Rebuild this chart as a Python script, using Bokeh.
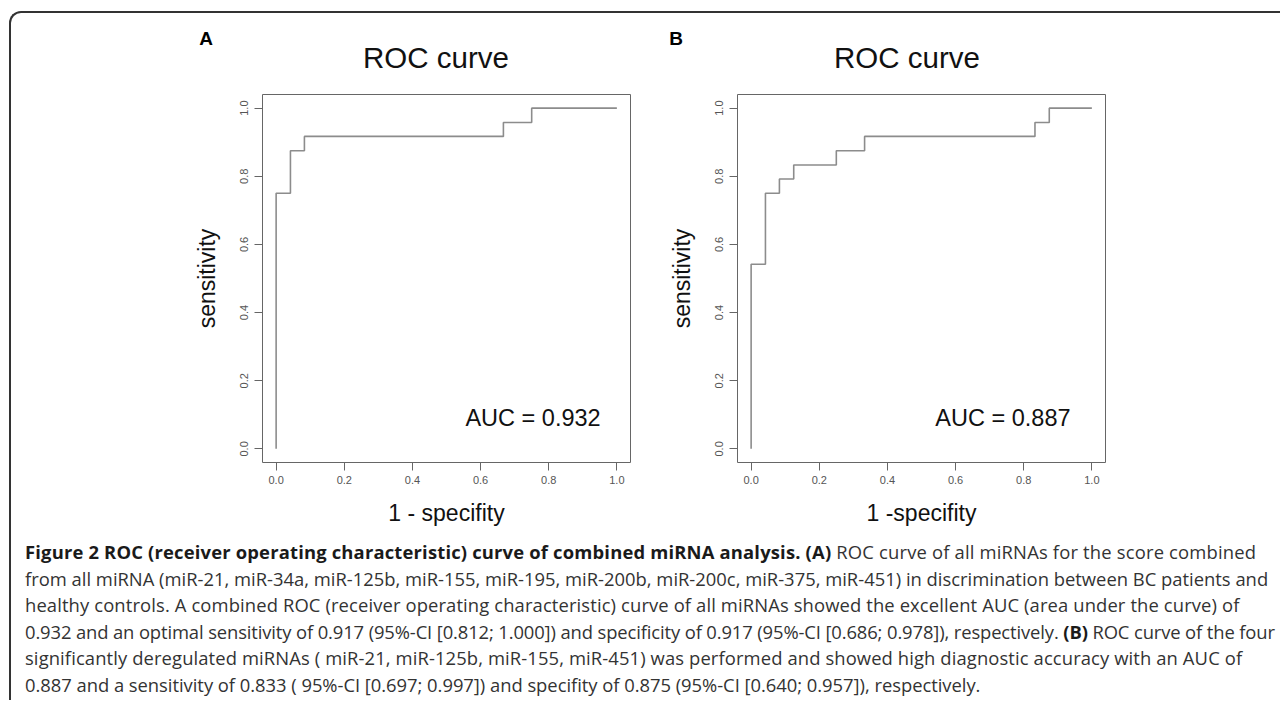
from bokeh.plotting import figure
from bokeh.models import Label, FixedTicker, Div, PrintfTickFormatter, Range1d
from bokeh.layouts import row, column
from bokeh.embed import file_html
from bokeh.resources import INLINE

# ---- data (1 - specificity, sensitivity) ----
fpr_a = [0.0, 0.0, 0.042, 0.042, 0.083, 0.083, 0.667, 0.667, 0.750, 0.750, 1.0]
tpr_a = [0.0, 0.750, 0.750, 0.875, 0.875, 0.917, 0.917, 0.958, 0.958, 1.0, 1.0]

fpr_b = [0.0, 0.0, 0.042, 0.042, 0.083, 0.083, 0.125, 0.125, 0.250, 0.250,
         0.333, 0.333, 0.833, 0.833, 0.875, 0.875, 1.0]
tpr_b = [0.0, 0.542, 0.542, 0.750, 0.750, 0.792, 0.792, 0.833, 0.833, 0.875,
         0.875, 0.917, 0.917, 0.958, 0.958, 1.0, 1.0]

auc_labels = ["AUC = 0.932", "AUC = 0.887"]
panel_letters = ["A", "B"]
x_titles = ["1 - specifity", "1 -specifity"]
y_title = "sensitivity"
main_title = "ROC curve"
tick_values = [0.0, 0.2, 0.4, 0.6, 0.8, 1.0]

caption_lines = [
    '<b style="color:#1a1a1a">Figure 2 ROC (receiver operating characteristic) curve of combined miRNA analysis. (A)</b>'
    ' ROC curve of all miRNAs for the score combined',
    'from all miRNA (miR-21, miR-34a, miR-125b, miR-155, miR-195, miR-200b, miR-200c, miR-375, miR-451) in discrimination between BC patients and',
    'healthy controls. A combined ROC (receiver operating characteristic) curve of all miRNAs showed the excellent AUC (area under the curve) of',
    '0.932 and an optimal sensitivity of 0.917 (95%-CI [0.812; 1.000]) and specificity of 0.917 (95%-CI [0.686; 0.978]), respectively. '
    '<b style="color:#1a1a1a">(B)</b> ROC curve of the four',
    'significantly deregulated miRNAs ( miR-21, miR-125b, miR-155, miR-451) was performed and showed high diagnostic accuracy with an AUC of',
    '0.887 and a sensitivity of 0.833 ( 95%-CI [0.697; 0.997]) and specifity of 0.875 (95%-CI [0.640; 0.957]), respectively.',
]
caption_spacing = [0.18, 0.0, 0.12, -0.12, 0.11, -0.03]

FONT = "Liberation Sans"


def make_panel(fpr, tpr, auc_text, xlab, width, left, right, auc_x):
    p = figure(width=width, height=447, output_backend="svg", toolbar_location=None,
               x_range=Range1d(-0.04, 1.04), y_range=Range1d(-0.04, 1.04),
               min_border_left=left, min_border_right=right,
               min_border_top=11, min_border_bottom=68)
    p.grid.visible = False
    p.outline_line_color = "#666666"
    p.outline_line_width = 1
    p.background_fill_color = "white"
    p.border_fill_color = "white"
    for ax in (p.xaxis[0], p.yaxis[0]):
        ax.ticker = FixedTicker(ticks=tick_values)
        ax.formatter = PrintfTickFormatter(format="%.1f")
        ax.axis_line_color = None
        ax.major_tick_line_color = "#666666"
        ax.major_tick_out = 8
        ax.major_tick_in = 0
        ax.minor_tick_line_color = None
        ax.major_label_text_font = FONT
        ax.major_label_text_font_size = "11px"
        ax.major_label_text_color = "#555555"
        ax.axis_label_text_font = FONT
        ax.axis_label_text_font_size = "23px"
        ax.axis_label_text_font_style = "normal"
        ax.axis_label_text_color = "#111111"
    p.xaxis.axis_label = xlab
    p.yaxis.axis_label = y_title
    p.xaxis.major_label_standoff = 5
    p.yaxis.major_label_standoff = 6
    p.yaxis.major_label_orientation = "vertical"
    p.xaxis.axis_label_standoff = 13
    p.yaxis.axis_label_standoff = 18

    p.line(fpr, tpr, line_color="#8c8c8c", line_width=1.6)

    p.add_layout(Label(x=auc_x, y=0.09, text=auc_text, text_align="center",
                       text_baseline="middle", text_font=FONT,
                       text_font_size="23.5px", text_color="#111111"))
    return p


pa = make_panel(fpr_a, tpr_a, auc_labels[0], x_titles[0], 630, 251, 11, 0.754)
pb = make_panel(fpr_b, tpr_b, auc_labels[1], x_titles[1], 639, 96, 175, 0.739)

# header: panel letters and plot titles (positions in px inside the header box)
letter_pos = [(195, 25), (665, 25)]
title_pos = [(425, 45), (896, 45)]
span_css = ("position:absolute; left:{x}px; top:{y}px; transform:translate(-50%,-50%); "
            "line-height:1; white-space:nowrap; {extra}")
header_parts = []
for (lx, ly), (tx, ty), letter in zip(letter_pos, title_pos, panel_letters):
    header_parts.append('<span style="%s">%s</span>' % (
        span_css.format(x=lx, y=ly, extra="font-weight:bold; font-size:19px; color:#000;"), letter))
    header_parts.append('<span style="%s">%s</span>' % (
        span_css.format(x=tx, y=ty, extra="font-size:29.5px; color:#111;"), main_title))
header_html = ('<div style="position:relative; width:1269px; height:70px; '
               'font-family:\'Liberation Sans\';">' + "".join(header_parts) + '</div>')
header = Div(text=header_html, width=1269, height=70, margin=(0, 0, 0, 0))

line_divs = "".join(
    '<div style="letter-spacing:%.2fpx">%s</div>' % (ls, txt)
    for txt, ls in zip(caption_lines, caption_spacing))
caption_html = (
    '<div style="font-family: \'Open Sans\'; font-size: 18.4px; line-height: 26.6px; '
    'color: #333; white-space: nowrap; padding-left: 14px; padding-top: 9px;">'
    + line_divs + '</div>')
cap = Div(text=caption_html, width=1269, height=170, margin=(0, 0, 0, 0))

layout = column(header, row(pa, pb, spacing=0), cap, spacing=0,
                styles={"margin-left": "9px", "margin-top": "11px",
                        "border-left": "2px solid #333", "border-top": "2px solid #333",
                        "border-top-left-radius": "12px", "background": "white"})

open("out.html", "w").write(file_html(layout, INLINE))
